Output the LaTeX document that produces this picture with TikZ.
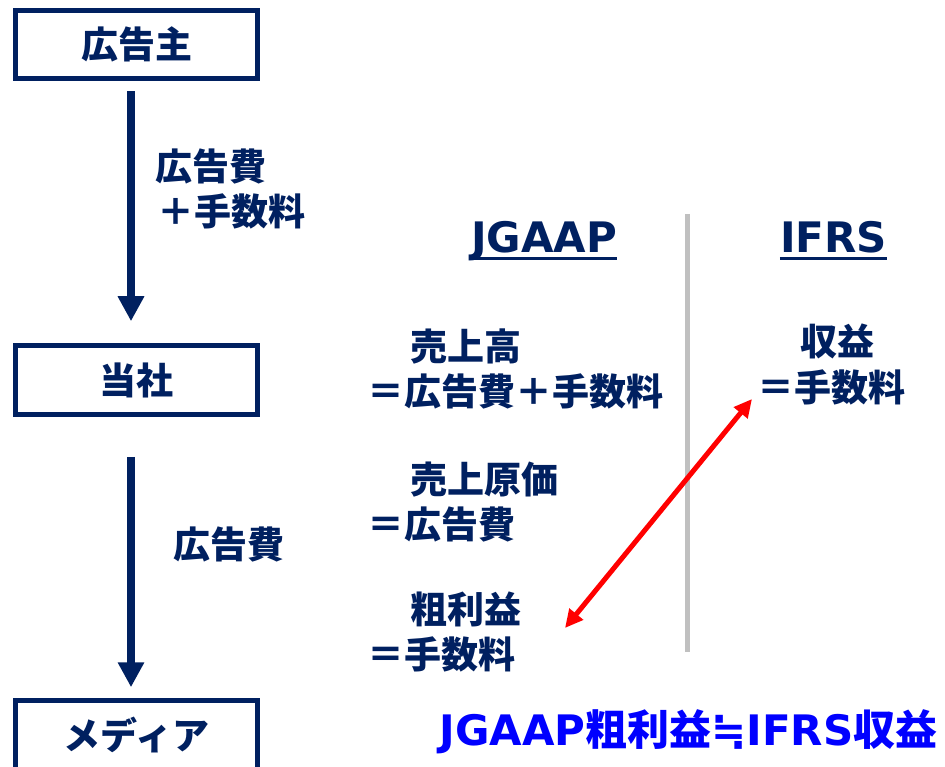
\documentclass[tikz,border=0pt]{standalone}
\usepackage{fontspec}
\newfontfamily\jp{Noto Sans CJK JP}
\newfontfamily\lat{DejaVu Sans}
\usetikzlibrary{arrows.meta}
\definecolor{navy}{HTML}{002060}
\definecolor{ruleg}{HTML}{C0C0C0}
\definecolor{pureblue}{HTML}{0000FF}
\begin{document}
\begin{tikzpicture}[x=1pt,y=-1pt,
  box/.style={draw=navy, line width=5pt, minimum width=242pt, minimum height=68.5pt, inner sep=0pt, text=navy, font=\jp\bfseries\fontsize{37}{40}\selectfont},
  jtxt/.style={anchor=base west, inner sep=0pt, text=navy, font=\jp\bfseries\fontsize{37}{40}\selectfont},
  head/.style={anchor=base, inner sep=0pt, text=navy, font=\lat\bfseries\fontsize{42}{48}\selectfont},
  flow/.style={navy, line width=8pt, -{Triangle[length=25pt,width=25pt]}},
  cmp/.style={red, line width=5pt, {Triangle[length=18pt,width=17pt]}-{Triangle[length=18pt,width=17pt]}},
  sep/.style={ruleg, line width=5pt},
  uline/.style={navy, line width=2.5pt}]
\useasboundingbox (0,0) rectangle (945,767);
\begin{scope}
\clip (0,0) rectangle (945,767);
\node[box] (adv) at (136.5,44.75) {広告主};
\node[box] (self) at (136.5,380) {当社};
\node[box] (media) at (136.5,735) {メディア};
\end{scope}

\draw[flow, shorten <=10pt, shorten >=22pt] ([xshift=-5.5pt]adv.south) -- ([xshift=-5.5pt]self.north);
\draw[flow, shorten <=40pt, shorten >=11pt] ([xshift=-5.5pt]self.south) -- ([xshift=-5.5pt]media.north);

\node[jtxt] (fee1) at (155,181) {広告費};
\node[jtxt] (fee2) at (157,226) {＋手数料};
\node[jtxt] (fee3) at (173,558) {広告費};

\node[head] (jgaap) at (544,253) {JGAAP};
\node[head] (ifrs) at (833.5,253) {IFRS};
\draw[uline] ([yshift=-5.5pt]jgaap.base west) -- ([yshift=-5.5pt]jgaap.base east);
\draw[uline] ([yshift=-5.5pt]ifrs.base west) -- ([yshift=-5.5pt]ifrs.base east);

\coordinate (sepT) at (687.5,214);
\coordinate (sepB) at (687.5,652);
\draw[sep] (sepT) -- (sepB);

\node[jtxt] (js1) at (410,360) {売上高};
\node[jtxt] (js2) at (367,405) {＝広告費＋手数料};
\node[jtxt] (jc1) at (410,493) {売上原価};
\node[jtxt] (jc2) at (367,538) {＝広告費};
\node[jtxt] (jg1) at (410,623) {粗利益};
\node[jtxt] (jg2) at (367,668) {＝手数料};
\node[jtxt] (ir1) at (800,355) {収益};
\node[jtxt] (ir2) at (757,401) {＝手数料};

\coordinate (rA) at (565,628);
\coordinate (rB) at (752,399);
\draw[cmp] (rA) -- (rB);

\node[anchor=base, inner sep=0pt, text=pureblue, font=\bfseries\fontsize{42}{48}\selectfont] (concl) at (688.5,745) {{\lat JGAAP}{\jp 粗利益}{\lat ≒}{\lat IFRS}{\jp 収益}};
\end{tikzpicture}
\end{document}
